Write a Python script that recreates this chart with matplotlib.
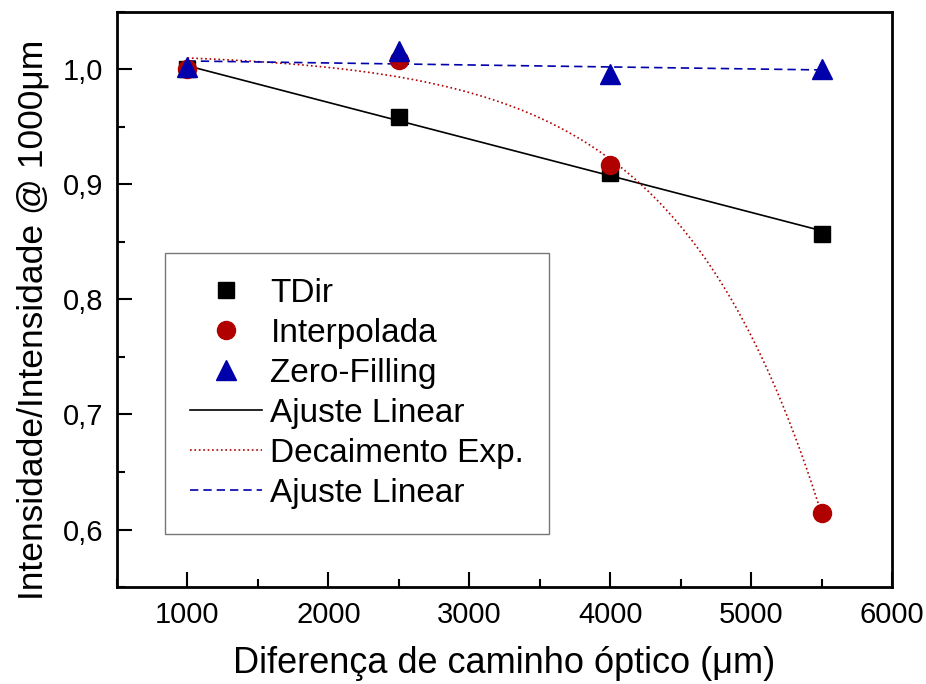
import numpy as np
import matplotlib
matplotlib.use("Agg")
import matplotlib.pyplot as plt
from matplotlib.ticker import MultipleLocator, FuncFormatter

plt.rcParams['font.family'] = ['Liberation Sans', 'DejaVu Sans']

# data
opd = [1000, 2500, 4000, 5500]
tdir = [1.000, 0.959, 0.910, 0.857]
interpolada = [1.000, 1.008, 0.917, 0.614]
zero_filling = [1.002, 1.016, 0.996, 1.000]

x = np.array(opd, dtype=float)
xs = np.linspace(x[0], x[-1], 300)

# linear fits
fit_tdir = np.poly1d(np.polyfit(x, tdir, 1))
fit_zf = np.poly1d(np.polyfit(x, zero_filling, 1))

# exponential decay fit y = y0 - A*exp(x/t), grid search on t
best = None
for t in np.linspace(400, 3000, 800):
    M = np.column_stack([np.ones_like(x), -np.exp(x / t)])
    coef, res, *_ = np.linalg.lstsq(M, interpolada, rcond=None)
    err = np.sum((M @ coef - interpolada) ** 2)
    if best is None or err < best[0]:
        best = (err, t, coef)
_, t_best, (y0, A) = best
exp_curve = y0 - A * np.exp(xs / t_best)

red = '#B00000'
blue = '#0000AA'

fig = plt.figure(figsize=(9.26, 6.84), dpi=100)
ax = fig.add_axes([0.1264, 0.1418, 0.8369, 0.8407])

ax.plot(xs, fit_tdir(xs), '-', color='black', lw=1.2, label='Ajuste Linear', zorder=2)
ax.plot(xs, exp_curve, ':', color=red, lw=1.2, label='Decaimento Exp.', zorder=2)
ax.plot(xs, fit_zf(xs), '--', color=blue, lw=1.2, dashes=(5, 3), label='Ajuste Linear', zorder=2)

ax.plot(x, tdir, 's', color='black', ms=12, ls='none', label='TDir', zorder=3)
ax.plot(x, interpolada, 'o', color=red, ms=13, ls='none', label='Interpolada', zorder=4)
ax.plot(x, zero_filling, '^', color=blue, ms=15, ls='none', label='Zero-Filling', zorder=5)

ax.set_xlim(500, 6000)
ax.set_ylim(0.55, 1.05)
ax.xaxis.set_major_locator(MultipleLocator(1000))
ax.xaxis.set_minor_locator(MultipleLocator(500))
ax.yaxis.set_major_locator(MultipleLocator(0.1))
ax.yaxis.set_minor_locator(MultipleLocator(0.05))
ax.yaxis.set_major_formatter(FuncFormatter(lambda v, p: f'{v:.1f}'.replace('.', ',')))
ax.set_xticks([1000, 2000, 3000, 4000, 5000, 6000])

ax.tick_params(which='both', direction='in', top=False, right=False, width=1.5, labelsize=21, pad=10)
ax.tick_params(which='major', length=11)
ax.tick_params(which='minor', length=6)
for s in ax.spines.values():
    s.set_linewidth(2)

ax.set_xlabel('Diferença de caminho óptico (μm)', fontsize=26, labelpad=12)
ax.set_ylabel('Intensidade/Intensidade @ 1000μm', fontsize=25.5)
ax.yaxis.set_label_coords(-0.087, 0.464)

h, l = ax.get_legend_handles_labels()
order = [3, 4, 5, 0, 1, 2]
leg = ax.legend([h[i] for i in order], [l[i] for i in order],
                loc='upper left', bbox_to_anchor=(0.062, 0.581),
                fontsize=24, frameon=True, fancybox=False, edgecolor='#555555',
                handlelength=2.16, labelspacing=0.27, borderpad=0.75,
                handletextpad=0.25, borderaxespad=0)
leg.get_frame().set_linewidth(1)

fig.savefig('out.png', dpi=100)
